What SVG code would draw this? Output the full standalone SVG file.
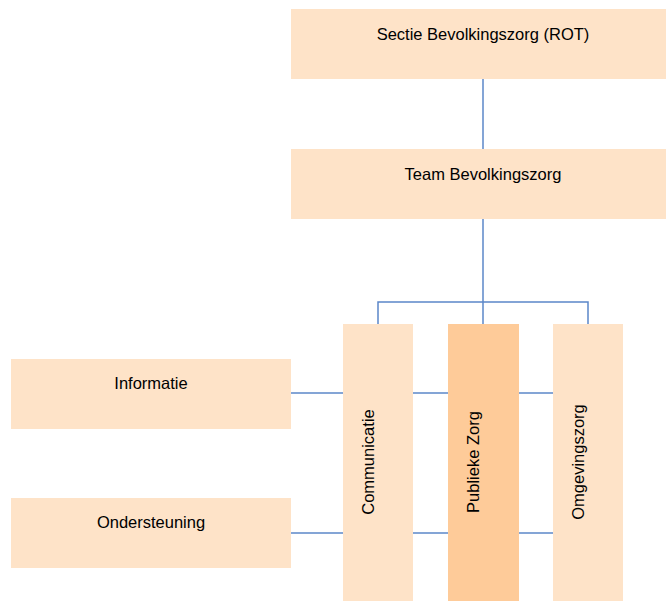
<svg xmlns="http://www.w3.org/2000/svg" width="666" height="601" viewBox="0 0 666 601">
<style>
.n{fill:#FEE3C8}
.d{fill:#FECB99}
.c{stroke:#5B87C9;stroke-width:1.5;fill:none}
text{font-family:"Liberation Sans",Arial,sans-serif;font-size:16.5px;fill:#000;text-anchor:middle;dominant-baseline:central}
</style>
<rect width="666" height="601" fill="#fff"/>
<g id="connectors">
<path class="c" d="M483,79V149"/>
<path class="c" d="M483,219V324"/>
<path class="c" d="M378,324V302H588V324"/>
<path class="c" d="M291,393H553"/>
<path class="c" d="M291,533H553"/>
</g>
<g id="sectie"><rect class="n" x="291" y="9" width="375" height="70"/><text x="483" y="34">Sectie Bevolkingszorg (ROT)</text></g>
<g id="team"><rect class="n" x="291" y="149" width="375" height="70"/><text x="483" y="174">Team Bevolkingszorg</text></g>
<g id="informatie"><rect class="n" x="11" y="359" width="280" height="70"/><text x="151" y="383">Informatie</text></g>
<g id="ondersteuning"><rect class="n" x="11" y="498" width="280" height="70"/><text x="151" y="522">Ondersteuning</text></g>
<g id="communicatie"><rect class="n" x="343" y="324" width="70" height="277"/><text transform="translate(368,462) rotate(-90)">Communicatie</text></g>
<g id="publieke"><rect class="d" x="448" y="324" width="71" height="277"/><text transform="translate(473,462) rotate(-90)">Publieke Zorg</text></g>
<g id="omgevingszorg"><rect class="n" x="553" y="324" width="70" height="277"/><text transform="translate(578,462) rotate(-90)">Omgevingszorg</text></g>
</svg>
